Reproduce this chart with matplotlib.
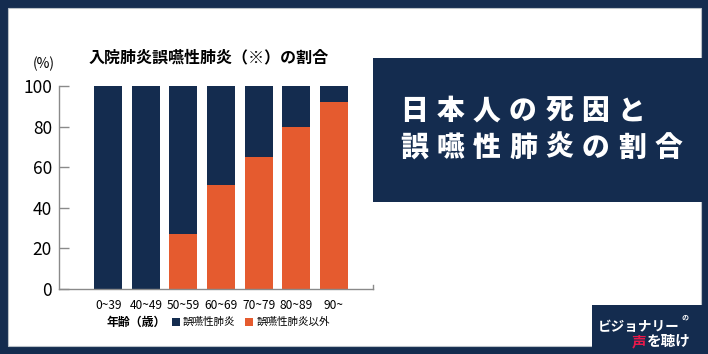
import matplotlib
matplotlib.use("Agg")
import matplotlib.pyplot as plt
from matplotlib.patches import Rectangle

plt.rcParams['font.family'] = ['Noto Sans CJK JP', 'DejaVu Sans']

# data
ages = ['0~39', '40~49', '50~59', '60~69', '70~79', '80~89', '90~']
other = [0, 0, 27, 51, 65, 80, 92]          # 誤嚥性肺炎以外 (orange)
aspiration = [100 - v for v in other]         # 誤嚥性肺炎 (navy)
yticks = [0, 20, 40, 60, 80, 100]

chart_title = '入院肺炎誤嚥性肺炎（※）の割合'
big_title = ['日本人の死因と', '誤嚥性肺炎の割合']
legend_labels = ['誤嚥性肺炎', '誤嚥性肺炎以外']

navy = '#142c4f'
orange = '#e55b2f'
grey = '#8a8a8a'

W, H = 708, 354
def fx(x):
    return x / W
def fy(y):
    return 1 - y / H

fig = plt.figure(figsize=(7.08, 3.54), dpi=100)
fig.patch.set_facecolor(navy)

# white panel, title box, logo box
fig.add_artist(Rectangle((fx(8), fy(346)), fx(701) - fx(8), (346 - 8) / H,
                         transform=fig.transFigure, facecolor='white',
                         edgecolor='#b8c0c8', lw=0.8, zorder=-3))
fig.add_artist(Rectangle((fx(373), fy(202)), fx(708) - fx(373), (202 - 58) / H,
                         transform=fig.transFigure, facecolor=navy, lw=0, zorder=-2))
fig.add_artist(Rectangle((fx(592), fy(354)), fx(708) - fx(592), (354 - 305) / H,
                         transform=fig.transFigure, facecolor=navy, lw=0, zorder=-2))

# chart
ax = fig.add_axes([fx(59), fy(289), (373 - 59) / W, (289 - 86) / H])
ax.set_zorder(1)
ax.set_facecolor('none')
x = list(range(len(ages)))
ax.bar(x, other, width=0.745, color=orange, lw=0)
ax.bar(x, aspiration, bottom=other, width=0.745, color=navy, lw=0)
ax.set_xlim(-1.31, 7.04)
ax.set_ylim(0, 100)
ax.set_yticks(yticks)
ax.set_yticklabels([str(v) for v in yticks], fontsize=12.5)
ax.set_xticks(x)
ax.set_xticklabels(ages, fontsize=8.6)
ax.tick_params(axis='y', direction='in', length=7, width=1, color=grey, pad=5)
ax.tick_params(axis='x', length=0, pad=7)
ax.spines['top'].set_visible(False)
for s in ['left', 'bottom', 'right']:
    ax.spines[s].set_color(grey)
    ax.spines[s].set_linewidth(1)
ax.spines['right'].set_bounds(0, 2.2)

fig.text(fx(44), fy(64), '(%)', fontsize=10, ha='center', va='center')
fig.text(fx(208.5), fy(57.5), chart_title, fontsize=11.5, fontweight='bold',
         ha='center', va='center')

# legend row
fig.text(fx(136.5), fy(322), '年齢（歳）', fontsize=8.6, fontweight='bold',
         ha='center', va='center')
fig.add_artist(Rectangle((fx(172), fy(325.5)), 8 / W, 8 / H,
                         transform=fig.transFigure, facecolor=navy, lw=0))
fig.text(fx(183), fy(321.5), legend_labels[0], fontsize=7.6, ha='left', va='center')
fig.add_artist(Rectangle((fx(245), fy(325.5)), 8 / W, 8 / H,
                         transform=fig.transFigure, facecolor=orange, lw=0))
fig.text(fx(256.5), fy(321.5), legend_labels[1], fontsize=7.6, ha='left', va='center')

# big title, spaced characters
for row, (line, yc) in enumerate(zip(big_title, [111, 147.5])):
    for i, ch in enumerate(line):
        fig.text(fx(414 + 36.3 * i), fy(yc), ch, fontsize=20, fontweight='black',
                 color='white', ha='center', va='center')

# logo
fig.text(fx(598), fy(327), 'ビジョナリー', fontsize=9.8, fontweight='bold',
         color='white', ha='left', va='center')
fig.text(fx(685), fy(318), 'の', fontsize=5, fontweight='bold',
         color='white', ha='center', va='center')
fig.text(fx(632), fy(341), '声', fontsize=10.5, fontweight='bold',
         color='#e8194a', ha='left', va='center')
fig.text(fx(647), fy(341), 'を聴け', fontsize=10.5, fontweight='bold',
         color='white', ha='left', va='center')

fig.savefig('out.png', dpi=100, facecolor=navy)
